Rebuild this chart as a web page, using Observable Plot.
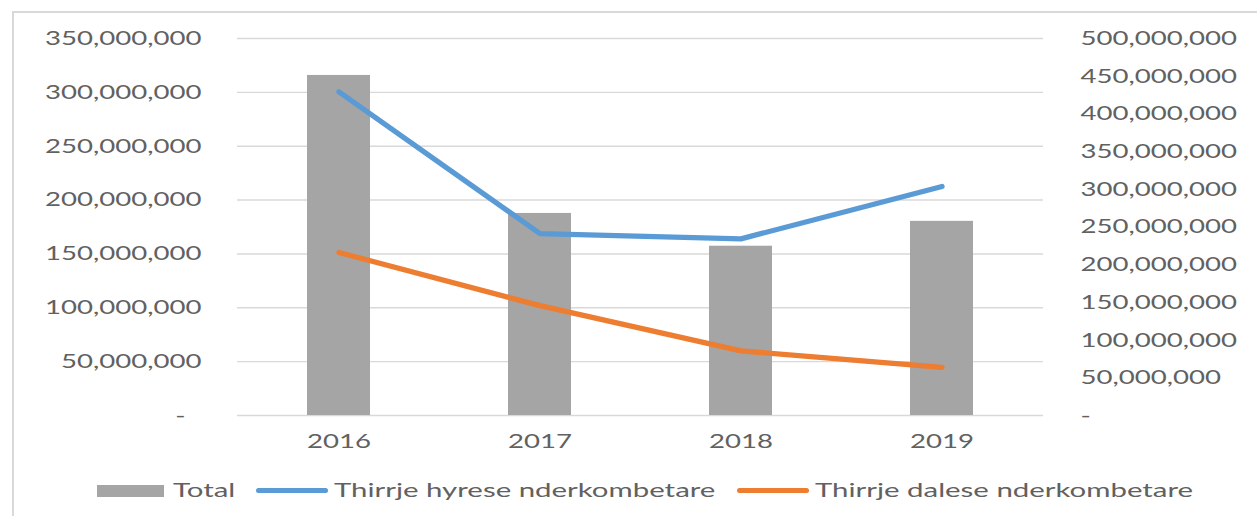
<!DOCTYPE html>
<html>
<head>
<meta charset="utf-8">
<script src="https://cdn.jsdelivr.net/npm/d3@7"></script>
<script src="https://cdn.jsdelivr.net/npm/@observablehq/plot@0.6"></script>
<style>
  html, body { margin: 0; padding: 0; background: #fff; }
  body { width: 1257px; height: 516px; overflow: hidden; position: relative; font-family: Lato, "Open Sans", sans-serif; color: #616161; }
  #frame { position: absolute; left: 12px; top: 11px; width: 2000px; height: 1000px; border-left: 2px solid #d9d9d9; border-top: 2px solid #d9d9d9; }
  #chart { position: absolute; left: 0; top: 0; }
  #legend { position: absolute; left: 0; top: 460px; width: 1257px; height: 56px; }
  .sw { position: absolute; }
  .lt { position: absolute; top: 17px; font-size: 20px; font-weight: 400; line-height: 24px; white-space: nowrap; transform-origin: 0 50%; display: inline-block; }
</style>
</head>
<body>
<div id="frame"></div>
<div id="chart"></div>
<div id="legend"></div>
<script>
// ---- data ----
const years = ["2016", "2017", "2018", "2019"];
const total = [451e6, 268e6, 224.5e6, 257.5e6];          // right axis
const incoming = [300.5e6, 168.8e6, 164e6, 212.6e6];      // left axis
const outgoing = [151.3e6, 102e6, 60e6, 44.6e6];          // left axis
const leftTicks = [0, 50e6, 100e6, 150e6, 200e6, 250e6, 300e6, 350e6];
const rightTicks = [0, 50e6, 100e6, 150e6, 200e6, 250e6, 300e6, 350e6, 400e6, 450e6, 500e6];
const seriesNames = ["Total", "Thirrje hyrese nderkombetare", "Thirrje dalese nderkombetare"];
const seriesColors = ["#A5A5A5", "#5B9BD5", "#ED7D31"];

// ---- build ----
const leftMax = 350e6, rightMax = 500e6;
const toLeft = v => v * leftMax / rightMax;
const fmt = v => v === 0 ? "-" : d3.format(",")(v);
const STRETCH = 1.38;
const LEGEND_STRETCH = 1.47;
const textColor = "#616161";

const barData = years.map((y, i) => ({year: y, value: total[i]}));
const inData = years.map((y, i) => ({year: y, value: incoming[i]}));
const outData = years.map((y, i) => ({year: y, value: outgoing[i]}));

const chart = Plot.plot({
  width: 1257,
  height: 460,
  marginTop: 38,
  marginBottom: 45,
  marginLeft: 237,
  marginRight: 214,
  style: {fontFamily: "Lato, 'Open Sans', sans-serif", fontSize: "20px", fontWeight: 400, background: "transparent", color: textColor},
  x: {domain: years, paddingInner: 0.686, paddingOuter: 0.343, label: null},
  y: {domain: [0, leftMax], label: null},
  marks: [
    Plot.gridY(leftTicks, {stroke: "#d9d9d9", strokeOpacity: 1, strokeWidth: 1.4}),
    Plot.barY(barData, {x: "year", y: d => toLeft(d.value), fill: seriesColors[0]}),
    Plot.line(inData, {x: "year", y: "value", stroke: seriesColors[1], strokeWidth: 5.3, strokeLinecap: "round", strokeLinejoin: "round"}),
    Plot.line(outData, {x: "year", y: "value", stroke: seriesColors[2], strokeWidth: 5.3, strokeLinecap: "round", strokeLinejoin: "round"}),
    Plot.axisY(leftTicks.filter(v => v !== 0), {anchor: "left", tickSize: 0, tickPadding: 36, tickFormat: fmt, fill: textColor, fontSize: 20, label: null}),
    Plot.text([0], {y: d => d, frameAnchor: "left", dx: -52, text: fmt, textAnchor: "end", fill: textColor, fontSize: 20}),
    Plot.text(rightTicks, {y: d => toLeft(d), frameAnchor: "right", dx: 37, text: fmt, textAnchor: "start", fill: textColor, fontSize: 20}),
    Plot.axisX({tickSize: 0, tickPadding: 18, fill: textColor, fontSize: 20, label: null})
  ]
});
document.getElementById("chart").appendChild(chart);

// stretch text horizontally like the reference
chart.querySelectorAll("text").forEach(t => {
  const w = t.getComputedTextLength();
  if (w > 0) {
    t.setAttribute("textLength", (w * STRETCH).toFixed(1));
    t.setAttribute("lengthAdjust", "spacingAndGlyphs");
  }
});

// ---- legend ----
const legend = document.getElementById("legend");
let x = 97;
seriesNames.forEach((name, i) => {
  const sw = document.createElement("div");
  sw.className = "sw";
  if (i === 0) {
    Object.assign(sw.style, {left: x + "px", top: "25px", width: "67px", height: "12px", background: seriesColors[i]});
    x += 67 + 9;
  } else {
    Object.assign(sw.style, {left: x + "px", top: "28px", width: "72px", height: "5px", background: seriesColors[i], borderRadius: "3px"});
    x += 72 + 6;
  }
  legend.appendChild(sw);
  const lt = document.createElement("span");
  lt.className = "lt";
  lt.textContent = name;
  lt.style.left = x + "px";
  lt.style.transform = `scaleX(${LEGEND_STRETCH})`;
  legend.appendChild(lt);
  const w = lt.getBoundingClientRect().width;
  x += w + 21;
});
</script>
</body>
</html>
